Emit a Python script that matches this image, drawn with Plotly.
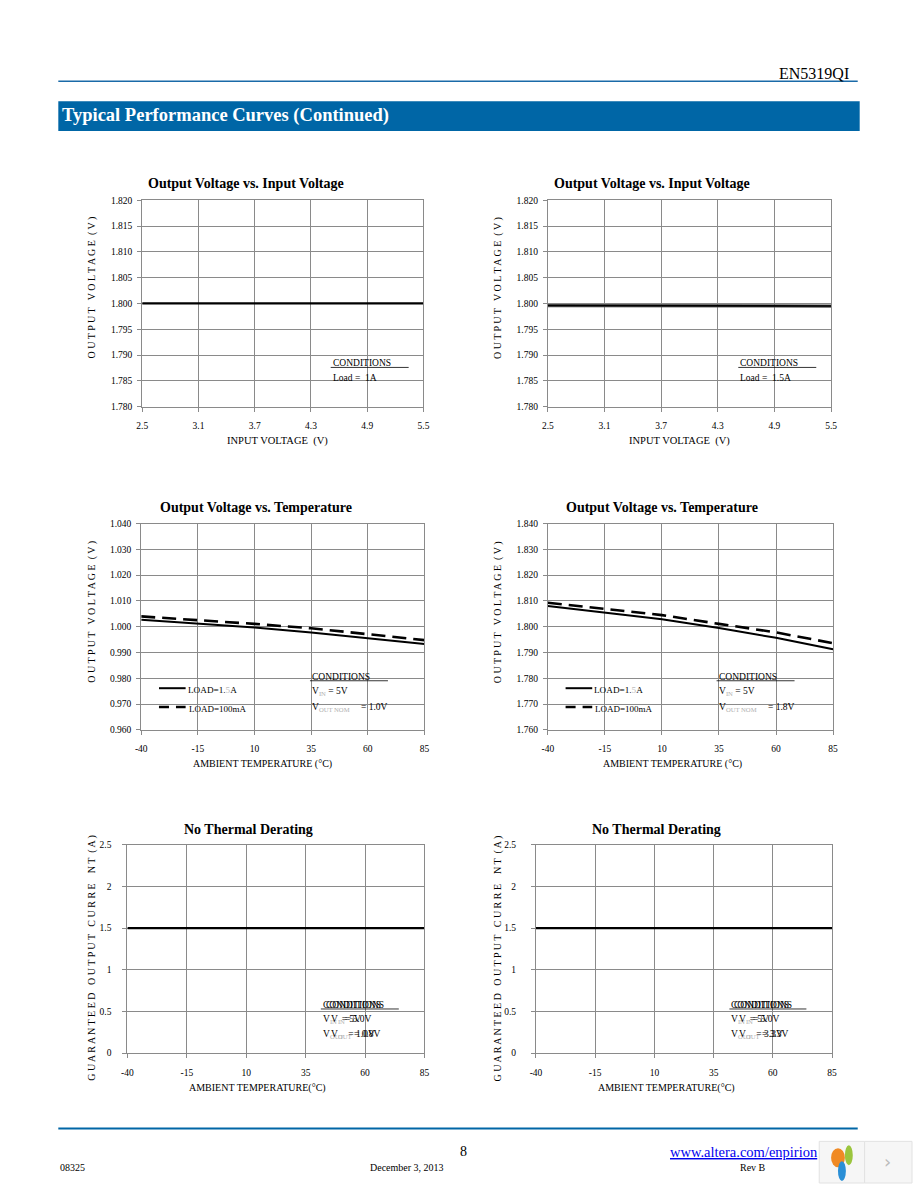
import plotly.graph_objects as go

PAGE_W, PAGE_H = 918, 1188
W, H = PAGE_W, PAGE_H
SERIF = "Liberation Serif"

# ---------------- data ----------------
vin = [2.5, 3.0, 3.5, 4.0, 4.5, 5.0, 5.5]
vout_load_1A = [1.8000, 1.8000, 1.8000, 1.8000, 1.8000, 1.8000, 1.8000]
vout_load_15A = [1.7996, 1.7996, 1.7996, 1.7996, 1.7996, 1.7995, 1.7995]

temp = [-40, -15, 10, 35, 60, 85]
v10_load_15A = [1.0027, 1.0012, 0.9997, 0.9978, 0.9955, 0.9933]
v10_load_100mA = [1.0040, 1.0026, 1.0011, 0.9994, 0.9972, 0.9948]
v18_load_15A = [1.8080, 1.8055, 1.8029, 1.7995, 1.7957, 1.7913]
v18_load_100mA = [1.8093, 1.8070, 1.8045, 1.8011, 1.7978, 1.7936]

temp_derating = [-40, -15, 10, 35, 60, 85]
iout_left = [1.5, 1.5, 1.5, 1.5, 1.5, 1.5]
iout_right = [1.5, 1.5, 1.5, 1.5, 1.5, 1.5]

vin_ticks = [2.5, 3.1, 3.7, 4.3, 4.9, 5.5]
vin_ticklabels = ["2.5", "3.1", "3.7", "4.3", "4.9", "5.5"]
temp_ticks = [-40, -15, 10, 35, 60, 85]
temp_ticklabels = ["-40", "-15", "10", "35", "60", "85"]

chart_titles = ["Output Voltage vs. Input Voltage", "Output Voltage vs. Input Voltage",
                "Output Voltage vs. Temperature", "Output Voltage vs. Temperature",
                "No Thermal Derating", "No Thermal Derating"]


def px(x):
    return x / W


def py(y):
    return 1 - y / H


# plot rectangles in page pixels (x0, y0, x1, y1)
rects = [(138, 197, 423, 405), (549, 197, 836, 405),
         (137, 523, 424, 731), (549, 523, 838, 731),
         (123, 847, 424, 1057), (537, 847, 837, 1057)]

GRID = "#8a8a8a"
fig = go.Figure()

fig.add_trace(go.Scatter(x=vin, y=vout_load_1A, mode="lines", line=dict(color="black", width=2.2), xaxis="x", yaxis="y"))
fig.add_trace(go.Scatter(x=vin, y=vout_load_15A, mode="lines", line=dict(color="#555", width=3.2), xaxis="x2", yaxis="y2"))
fig.add_trace(go.Scatter(x=vin, y=vout_load_15A, mode="lines", line=dict(color="black", width=1.6), xaxis="x2", yaxis="y2"))
fig.add_trace(go.Scatter(x=temp, y=v10_load_100mA, mode="lines", line=dict(color="black", width=2.6, dash="14px,7px"), xaxis="x3", yaxis="y3"))
fig.add_trace(go.Scatter(x=temp, y=v10_load_15A, mode="lines", line=dict(color="black", width=2), xaxis="x3", yaxis="y3"))
fig.add_trace(go.Scatter(x=temp, y=v18_load_100mA, mode="lines", line=dict(color="black", width=2.6, dash="14px,7px"), xaxis="x4", yaxis="y4"))
fig.add_trace(go.Scatter(x=temp, y=v18_load_15A, mode="lines", line=dict(color="black", width=2), xaxis="x4", yaxis="y4"))
fig.add_trace(go.Scatter(x=temp_derating, y=iout_left, mode="lines", line=dict(color="black", width=2.2), xaxis="x5", yaxis="y5"))
fig.add_trace(go.Scatter(x=temp_derating, y=iout_right, mode="lines", line=dict(color="black", width=2.2), xaxis="x6", yaxis="y6"))

common = dict(showgrid=True, gridcolor=GRID, gridwidth=1, showline=True, linecolor=GRID, linewidth=1,
              mirror=True, ticks="outside", ticklen=4, tickcolor=GRID, zeroline=False,
              tickfont=dict(family=SERIF, size=9.5, color="black"), fixedrange=True)

xv = dict(range=[2.5, 5.5], tickmode="array", tickvals=vin_ticks, ticktext=vin_ticklabels)
xt_ = dict(range=[-40, 85], tickmode="array", tickvals=temp_ticks, ticktext=temp_ticklabels)
xcfg = [xv, xv, xt_, xt_, xt_, xt_]
ycfg = [dict(range=[1.780, 1.820], tick0=1.78, dtick=0.005, tickformat=".3f", ticklabelstandoff=3),
        dict(range=[1.780, 1.820], tick0=1.78, dtick=0.005, tickformat=".3f", ticklabelstandoff=3),
        dict(range=[0.960, 1.040], tick0=0.96, dtick=0.01, tickformat=".3f", ticklabelstandoff=3),
        dict(range=[1.760, 1.840], tick0=1.76, dtick=0.01, tickformat=".3f", ticklabelstandoff=3),
        dict(range=[0, 2.5], tick0=0, dtick=0.5, ticklabelstandoff=9),
        dict(range=[0, 2.5], tick0=0, dtick=0.5, ticklabelstandoff=13)]

layout = {}
for i, (x0, y0, x1, y1) in enumerate(rects):
    n = "" if i == 0 else str(i + 1)
    layout["xaxis" + n] = dict(domain=[px(x0), px(x1)], anchor="y" + n, ticklabelstandoff=6, **common, **xcfg[i])
    layout["yaxis" + n] = dict(domain=[py(y1), py(y0)], anchor="x" + n, **common, **ycfg[i])
fig.update_layout(**layout)

ann = []
shapes = []


def text(x, y, s, size=9, bold=False, color="black", xanchor="left", yanchor="middle", angle=0, family=SERIF):
    if bold:
        s = "<b>" + s + "</b>"
    ann.append(dict(x=px(x), y=py(y), xref="paper", yref="paper", text=s, showarrow=False,
                    xanchor=xanchor, yanchor=yanchor, textangle=angle,
                    font=dict(family=family, size=size, color=color)))


def rect(x0, y0, x1, y1, fill="white", line=None, layer="between", lw=0):
    shapes.append(dict(type="rect", xref="paper", yref="paper", x0=px(x0), x1=px(x1), y0=py(y1), y1=py(y0),
                       fillcolor=fill, line=dict(color=line or fill, width=lw), layer=layer))


def hline(x0, x1, y, color="black", width=1, dash="solid"):
    shapes.append(dict(type="line", xref="paper", yref="paper", x0=px(x0), x1=px(x1), y0=py(y), y1=py(y),
                       line=dict(color=color, width=width, dash=dash), layer="above"))


# ---------------- header ----------------
text(856, 69, "EN5319QI", size=16, xanchor="right")
hline(53, 863, 77, color="#1a6aa8", width=1.5)
rect(53, 97, 865, 127, fill="#0066a6", layer="above")
text(55, 111, "Typical Performance Curves (Continued)", size=18.5, bold=True, color="white")

# ---------------- chart titles / axis titles ----------------
title_pos = [(243, 180), (655, 180), (253, 507), (665, 507), (246, 832), (659, 832)]
for (tx, ty), t in zip(title_pos, chart_titles):
    text(tx, ty, t, size=14, bold=True, xanchor="center")

xt = [("INPUT VOLTAGE  (V)", 275, 440, 10.5), ("INPUT VOLTAGE  (V)", 682, 440, 10.5),
      ("AMBIENT TEMPERATURE (°C)", 260, 765, 10), ("AMBIENT TEMPERATURE (°C)", 675, 765, 10),
      ("AMBIENT TEMPERATURE(°C)", 255, 1092, 10), ("AMBIENT TEMPERATURE(°C)", 669, 1092, 10)]
for s, x, y, fs in xt:
    text(x, y, s, size=fs, xanchor="center")

yv = "O U T P U T   V O L T A G E  ( V )"
yc = "G U A R A N T E E D   O U T P U T   C U R R E    N T  ( A )"
for s, x, y in [(yv, 87, 285), (yv, 498, 285), (yv, 87, 612), (yv, 498, 612), (yc, 87, 961), (yc, 498, 961)]:
    text(x, y, s, size=10, xanchor="center", angle=-90)

# ---------------- condition boxes (charts 1, 2) ----------------
rect(320, 347, 417, 387)
text(329, 361, "CONDITIONS", size=9.5)
hline(329, 408, 365.5, width=0.8)
text(329, 376, "Load =  1A", size=9.5)

rect(733, 347, 828, 387)
text(742, 361, "CONDITIONS", size=9.5)
hline(742, 821, 365.5, width=0.8)
text(742, 376, "Load =  1.5A", size=9.5)

# ---------------- charts 3, 4 legend + conditions ----------------
SUBC = "#b0b0b0"
for dx, vnom in [(0, "1.0V"), (412, "1.8V")]:
    rect(152 + dx, 682, 263 + dx, 716)
    rect(297 + dx, 670, 407 + dx, 717)
    hline(155 + dx, 182 + dx, 689, width=2)
    hline(155 + dx, 182 + dx, 708, width=2.6, dash="10px,7px")
    text(182 + dx, 691, "LOAD=1.<span style='color:#bbbbbb'>5</span>A", size=9.2)
    text(183 + dx, 710, "LOAD=100mA", size=9)
    text(308 + dx, 678, "CONDITIONS", size=9.5)
    hline(308 + dx, 387 + dx, 681.5, width=0.8)
    text(308 + dx, 692, "V<sub><span style='color:%s'>IN</span></sub> = 5V" % SUBC, size=9.5)
    text(308 + dx, 708, "V<sub><span style='color:%s'>OUT NOM</span></sub>" % SUBC, size=9.5)
    text(358 + dx, 708, "= " + vnom, size=9.5)

# ---------------- charts 5, 6 conditions (overprinted text) ----------------
for x0, bx0, bx1, ul1, voa, vob in [(319, 315, 415, 398, "1.0V", "0.8V"), (733, 728, 828, 811, "3.3V", "3.3V")]:
    rect(bx0, 993, bx1, 1050)
    text(x0, 1008, "CONDITIONS", size=9.5)
    text(x0 + 3, 1008, "CONDITIONS", size=9.5)
    hline(x0, ul1, 1012.5, width=0.8)
    text(x0, 1023, "V<sub><span style='color:%s'>IN</span></sub>  = 5V" % SUBC, size=9.5)
    text(x0 + 8, 1023, "V<sub><span style='color:%s'>IN</span></sub>= 5.0V" % SUBC, size=9.5)
    text(x0, 1038, "V<sub><span style='color:%s'>OUT</span></sub>  = %s" % (SUBC, voa), size=9.5)
    text(x0 + 8, 1038, "V<sub><span style='color:%s'>OUT</span></sub> = %s" % (SUBC, vob), size=9.5)

# ---------------- footer ----------------
hline(53, 863, 1133, color="#0066a6", width=2)
text(464, 1156, "8", size=14, xanchor="center")
text(671, 1157, "<u>www.altera.com/enpirion</u>", size=14.5, color="#0000ee")
text(53, 1172, "08325", size=10)
text(406, 1172, "December 3, 2013", size=10, xanchor="center")
text(757, 1172, "Rev B", size=10, xanchor="center")

# small viewer overlay at bottom right
rect(824, 1146, 870, 1188, fill="#f6f6f6", line="#e2e2e2", layer="above", lw=1)
rect(870, 1146, 918, 1188, fill="#f6f6f6", line="#e2e2e2", layer="above", lw=1)
shapes.append(dict(type="circle", xref="paper", yref="paper", x0=px(836), x1=px(850), y0=py(1172), y1=py(1153),
                   fillcolor="#f08a24", line=dict(width=0), layer="above"))
shapes.append(dict(type="circle", xref="paper", yref="paper", x0=px(850), x1=px(858), y0=py(1170), y1=py(1150),
                   fillcolor="#9bc53d", line=dict(width=0), layer="above"))
shapes.append(dict(type="circle", xref="paper", yref="paper", x0=px(843), x1=px(851), y0=py(1186), y1=py(1166),
                   fillcolor="#2a8fd6", line=dict(width=0), layer="above"))
text(893, 1166, "›", size=18, color="#bbbbbb", xanchor="center", family="DejaVu Sans")

fig.update_layout(width=W, height=H, autosize=False, margin=dict(l=0, r=0, t=0, b=0, pad=0),
                  paper_bgcolor="white", plot_bgcolor="white", showlegend=False,
                  annotations=ann, shapes=shapes)

fig.write_html("out.html", config={"displayModeBar": False},
               post_script="document.body.style.margin='0';document.documentElement.style.overflow='hidden';document.body.style.overflow='hidden';")
